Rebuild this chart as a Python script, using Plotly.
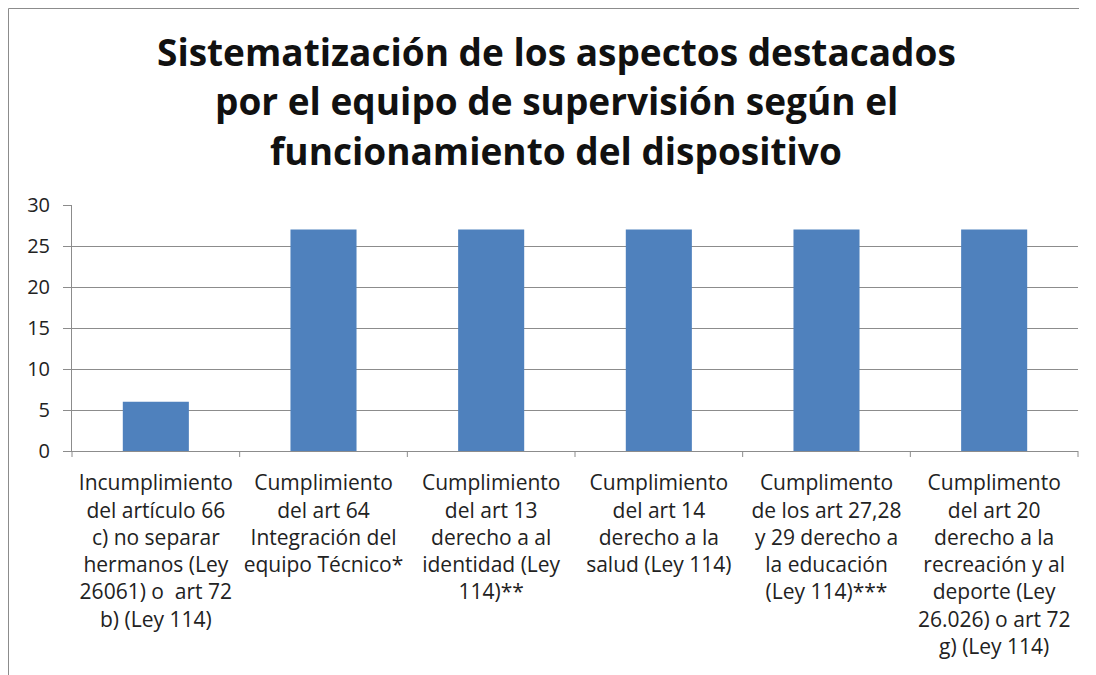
import plotly.graph_objects as go

categories = [
    "Incumplimiento<br>del artículo 66<br>c) no separar<br>hermanos (Ley<br>26061) o  art 72<br>b) (Ley 114)",
    "Cumplimiento<br>del art 64<br>Integración del<br>equipo Técnico*",
    "Cumplimiento<br>del art 13<br>derecho a al<br>identidad (Ley<br>114)**",
    "Cumplimiento<br>del art 14<br>derecho a la<br>salud (Ley 114)",
    "Cumplimento<br>de los art 27,28<br>y 29 derecho a<br>la educación<br>(Ley 114)***",
    "Cumplimento<br>del art 20<br>derecho a la<br>recreación y al<br>deporte (Ley<br>26.026) o art 72<br>g) (Ley 114)",
]
values = [6, 27, 27, 27, 27, 27]
title_lines = [
    "Sistematización de los aspectos destacados",
    "por el equipo de supervisión según el",
    "funcionamiento del dispositivo",
]

# page body has an 8px margin: work in figure coordinates (window - 8)
OFF = 8
W, H = 1088, 667
L, T = 72 - OFF, 205 - OFF
R = W - (1078 - OFF)
B = H - (451 - OFF)
pw, ph = W - L - R, H - T - B

def px_x(x):
    return (x - OFF - L) / pw

def px_y(y):
    return (H - B - (y - OFF)) / ph

fig = go.Figure(go.Bar(
    x=list(range(len(categories))), y=values,
    marker=dict(color="#4F81BD", line=dict(width=0)),
))

grid = "#8c8c8c"
FONT = "Open Sans, Lato, sans-serif"
fig.update_layout(
    width=W, height=H,
    margin=dict(l=L, r=R, t=T, b=B, autoexpand=False),
    paper_bgcolor="white", plot_bgcolor="white",
    bargap=0.606, showlegend=False,
    font=dict(family=FONT, color="#222222"),
)
fig.update_xaxes(
    tickmode="array", tickvals=list(range(len(categories))), ticktext=categories,
    range=[-0.5, len(categories) - 0.5],
    showline=True, linecolor=grid, linewidth=1,
    showgrid=False, ticks="", tickfont=dict(size=21, color="#222222"),
    ticklabelstandoff=13,
)
fig.update_yaxes(
    range=[0, 30], dtick=5, showgrid=True, gridcolor=grid, gridwidth=1,
    showline=True, linecolor=grid, linewidth=1,
    ticks="outside", ticklen=8, tickcolor=grid,
    tickfont=dict(size=20, color="#222222"), zeroline=False,
    ticklabelstandoff=9,
)

shapes = []
for i in range(len(categories) + 1):
    xp = i / len(categories)
    shapes.append(dict(type="line", xref="paper", yref="paper",
                       x0=xp, x1=xp, y0=0, y1=-6 / ph,
                       line=dict(color=grid, width=1)))
# outer chart border (top and left)
shapes.append(dict(type="line", xref="paper", yref="paper",
                   x0=px_x(8.5), x1=px_x(1079), y0=px_y(8.5), y1=px_y(8.5),
                   line=dict(color="#8c8c8c", width=1)))
shapes.append(dict(type="line", xref="paper", yref="paper",
                   x0=px_x(8.5), x1=px_x(8.5), y0=px_y(8.5), y1=px_y(675),
                   line=dict(color="#8c8c8c", width=1)))
fig.update_layout(shapes=shapes)

for line, yc in zip(title_lines, [52, 101, 150]):
    fig.add_annotation(text="<b>%s</b>" % line, xref="paper", yref="paper",
                       x=px_x(556), y=px_y(yc), showarrow=False,
                       xanchor="center", yanchor="middle",
                       font=dict(size=37, color="#111111", family=FONT))

fig.write_html("out.html")
